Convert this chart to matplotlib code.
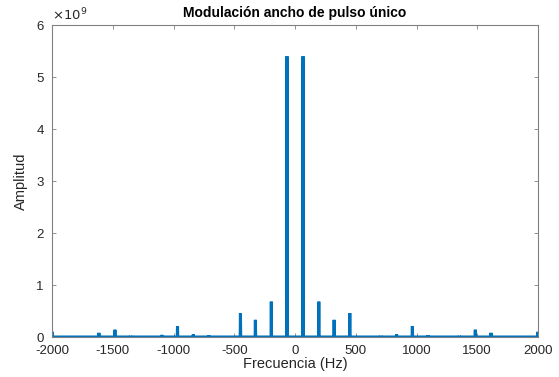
import numpy as np
import matplotlib
matplotlib.use("Agg")
import matplotlib.pyplot as plt
from matplotlib.ticker import FixedLocator

plt.rcParams['font.family'] = ['Liberation Sans', 'DejaVu Sans']

# Spectral lines of the single-pulse PWM signal (Hz, amplitude)
freqs = [-2000, -1614, -1482, -1352, -1096, -967, -837, -710, -449, -326, -195, -66,
         66, 196, 322, 451, 707, 836, 966, 1095, 1354, 1484, 1613, 2000]
amps = [0.10e9, 0.08e9, 0.14e9, 0.02e9, 0.04e9, 0.21e9, 0.05e9, 0.03e9, 0.46e9, 0.33e9, 0.68e9, 5.40e9,
        5.40e9, 0.68e9, 0.33e9, 0.46e9, 0.02e9, 0.05e9, 0.21e9, 0.03e9, 0.02e9, 0.14e9, 0.08e9, 0.10e9]

x_ticks = [-2000, -1500, -1000, -500, 0, 500, 1000, 1500, 2000]
y_ticks = [0, 1, 2, 3, 4, 5, 6]

# Build the spectrum trace: zero floor with a narrow spike at each line
xs, ys = [], []
for f, a in zip(freqs, amps):
    xs += [f - 2, f, f + 2]
    ys += [0, a, 0]
xs = np.array(xs, dtype=float)
ys = np.array(ys, dtype=float)

fig = plt.figure(figsize=(5.59, 3.77), dpi=100)
ax = fig.add_axes([52 / 559, 40 / 377, 486 / 559, 312 / 377])

blue = '#0072BD'
ax.plot(xs, ys / 1e9, color=blue, linewidth=2.2, solid_joinstyle='miter')

ax.set_xlim(-2000, 2000)
ax.set_ylim(0, 6)
ax.xaxis.set_major_locator(FixedLocator(x_ticks))
ax.yaxis.set_major_locator(FixedLocator(y_ticks))
ax.set_xticklabels([str(t) for t in x_ticks])
ax.set_yticklabels([str(t) for t in y_ticks])

edge = '#262626'
for s in ax.spines.values():
    s.set_color('#808080')
    s.set_linewidth(0.8)
ax.tick_params(direction='in', top=True, right=True, length=3, width=0.6,
               colors='#808080', labelcolor=edge, labelsize=9.5)
ax.tick_params(axis='x', pad=6)
ax.tick_params(axis='y', pad=6)

ax.set_title('Modulación ancho de pulso único', fontsize=10, fontweight='bold',
             color='black', pad=6)
ax.set_xlabel('Frecuencia (Hz)', fontsize=10.5, color=edge, labelpad=0)
ax.set_ylabel('Amplitud', fontsize=10.5, color=edge, labelpad=6)
ax.text(0.0, 1.005, r'$\times10^{9}$', transform=ax.transAxes, ha='left', va='bottom',
        fontsize=9.5, color=edge)

fig.savefig('out.png', dpi=100, facecolor='white')
